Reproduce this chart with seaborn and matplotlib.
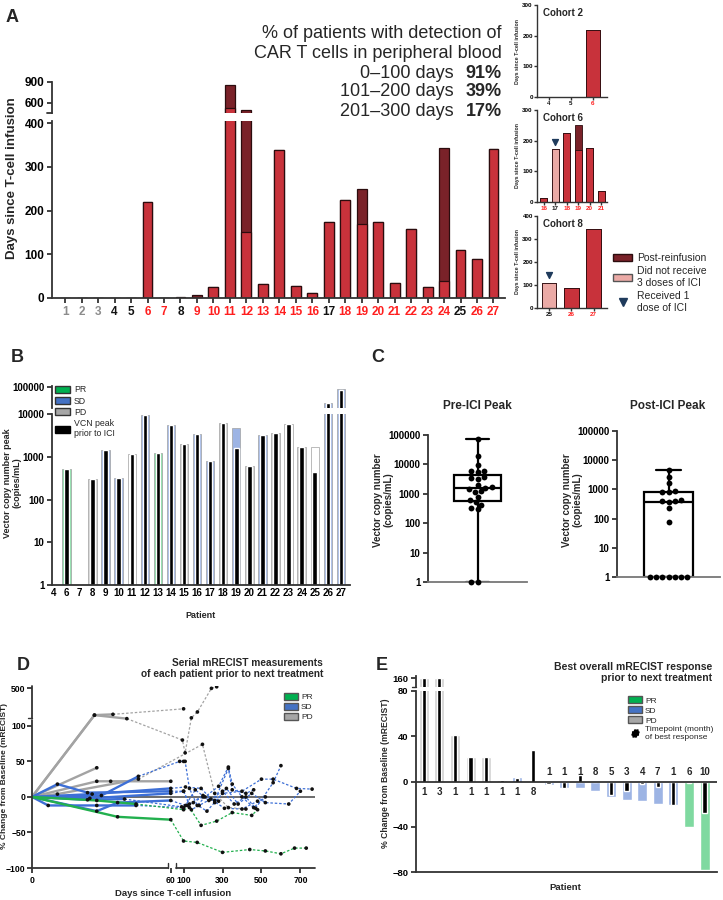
import numpy as np
import pandas as pd
import seaborn as sns
import matplotlib.pyplot as plt
from matplotlib.patches import Patch
from matplotlib.lines import Line2D
from matplotlib.ticker import FuncFormatter, NullLocator

nan = np.nan

# ---------------- data ----------------
# A: days since T-cell infusion (total incl. post-reinfusion, and before reinfusion)
a_patients = [str(i) for i in range(1, 28)]
a_total = [0, 0, 0, 0, 0, 220, 0, 2, 6, 25, 850, 500, 33, 338, 28, 12,
           173, 224, 250, 175, 35, 159, 26, 343, 110, 89, 342]
a_red = [0, 0, 0, 0, 0, 220, 0, 0, 0, 25, 530, 150, 33, 338, 28, 12,
         173, 224, 170, 175, 35, 159, 26, 40, 110, 89, 342]
a_tick_colors = (['#8c8c8c'] * 3 + ['#111111', '#111111', '#ff1f1f', '#ff1f1f', '#111111']
                 + ['#ff1f1f'] * 8 + ['#111111'] + ['#ff1f1f'] * 7
                 + ['#111111', '#ff1f1f', '#ff1f1f'])

c2_patients = ['4', '5', '6']
c2_days = [0, 0, 220]
c2_tick_colors = ['#111111', '#111111', '#ff1f1f']
c6_patients = ['16', '17', '18', '19', '20', '21']
c6_total = [12, 173, 224, 250, 175, 35]
c6_red = [12, 173, 224, 170, 175, 35]
c6_tick_colors = ['#ff1f1f', '#111111', '#ff1f1f', '#ff1f1f', '#ff1f1f', '#ff1f1f']
c8_patients = ['25', '26', '27']
c8_days = [110, 89, 342]
c8_tick_colors = ['#111111', '#ff1f1f', '#ff1f1f']

# B: vector copy number peak
b_patients = ['4', '6', '7', '8', '9', '10', '11', '12', '13', '14', '15', '16',
              '17', '18', '19', '20', '21', '22', '23', '24', '25', '26', '27']
b_peak = [nan, 520, nan, 300, 1420, 320, 1180, 9300, 1230, 5600, 2000, 3400,
          800, 6000, 4700, 610, 3300, 3600, 5900, 1650, 1650, 20000, 80000]
b_pre = [nan, 520, nan, 300, 1420, 320, 1180, 9300, 1230, 5600, 2000, 3400,
         800, 6000, 1630, 610, 3300, 3600, 5900, 1650, 430, 19000, 76000]
b_resp = ['NE', 'PR', 'NE', 'PD', 'SD', 'SD', 'NE', 'SD', 'PR', 'SD', 'PD', 'SD',
          'SD', 'PD', 'SD', 'PD', 'SD', 'PD', 'NE', 'PD', 'NE', 'SD', 'SD']

# C: pre / post ICI peaks
c_pre = [1, 1, 300, 320, 430, 520, 610, 800, 1180, 1230, 1420, 1630, 1650, 2000,
         3300, 3400, 3600, 5600, 5900, 6000, 9300, 19000, 76000]
c_post = [4800, 2700, 1600, 850, 830, 820, 420, 410, 400, 380, 230, 75,
          1, 1, 1, 1, 1, 1, 1]

# D: serial mRECIST measurements per patient
d_days = [
    [0, 27, 41, 94, 108, 140, 171, 243, 270],
    [0, 27, 35, 100],
    [0, 28],
    [0, 28, 34, 60],
    [0, 11, 46, 197, 260, 330, 420],
    [0, 11, 24, 60, 100, 130, 200, 260, 330, 350, 420, 460],
    [0, 7, 28, 45, 100, 150, 220, 300, 400, 500, 560, 680, 760],
    [0, 30, 46, 80, 100, 108, 130, 170, 210, 280, 330, 350, 400, 460, 520],
    [0, 28, 37, 60, 110, 160, 230, 300, 360, 420, 470, 560, 600],
    [0, 26, 60, 110, 190, 260, 320, 380, 450, 520, 640, 700],
    [0, 25, 60, 100, 140, 180, 240, 310, 400, 480],
    [0, 24, 40, 90, 120, 200, 280],
    [0, 37, 60, 100, 170, 300, 440, 520, 600, 670, 730],
    [0, 28, 45, 100, 130, 190, 270, 350, 450, 480],
]
d_vals = [
    [0, 160, 115, 80, 62, 125, 200, 500, 520],
    [0, 160, 170, 240],
    [0, 41],
    [0, 22, 22, 22],
    [0, 4, 25, 74, 5, -15, -17],
    [0, 18, 6, 8, 8, -10, 0, -5, 40, 10, 5, 10],
    [0, -12, -12, -12, -15, -8, -20, 5, 8, 25, 25, 12, 11],
    [0, 2, 29, 50, 50, 50, 12, -12, 0, 15, 42, 18, 0, -15, 0],
    [0, -20, -8, -5, -12, 10, -5, 8, -10, 0, -16, 20, 44],
    [0, 4, 12, 14, 12, -8, 12, -10, 5, -8, -10, 8],
    [0, -2, 5, 8, -18, -12, -3, -16, -17, -6],
    [0, -4, -3, -14, -12, 2, -6],
    [0, -28, -32, -62, -64, -78, -74, -76, -80, -72, -72],
    [0, -5, -10, -18, -15, -40, -34, -22, -26, -18],
]
d_resp = ['PD'] * 5 + ['SD'] * 7 + ['PR'] * 2

# E: best overall response
e_ids = [str(i) for i in range(1, 20)]
e_best = [160, 160, 41, 21.5, 21.5, 1.5, 4, nan, -3, -6, -6, -8, -14, -16, -17, -20, -21, -40, -78]
e_at_best = [160, 160, 41, 21.5, 21.5, 1.5, 3.5, 28, -2, -6, 6, 0, -12, -8, -2, -5, -21, -1, -28]
e_month = [1, 3, 1, 1, 1, 1, 1, 8, 1, 1, 1, 8, 5, 3, 4, 7, 1, 6, 10]
e_resp = ['PD'] * 6 + ['SD', 'PD'] + ['SD'] * 9 + ['PR'] * 2

# ---------------- style ----------------
sns.set_style('ticks')
plt.rcParams['font.family'] = ['Liberation Sans', 'DejaVu Sans']
plt.rcParams['font.weight'] = 'bold'

RED = '#c8323b'
DARK = '#7a2229'
PINK = '#ebaaa6'
EDGE = '#2b0c0e'
AXC = '#333333'
LIGHT = {'PR': '#7fd9a0', 'SD': '#9db4e4', 'PD': '#d2d2d2', 'NE': '#ffffff'}
SOLID = {'PR': '#00b050', 'SD': '#4472c4', 'PD': '#a6a6a6'}
LINE = {'PR': '#22b04e', 'SD': '#3d6fd6', 'PD': '#a3a3a3'}

W, H = 723, 900
fig = plt.figure(figsize=(W / 100, H / 100), dpi=100)


def add_ax(l, t, r, b):
    return fig.add_axes([l / W, 1 - b / H, (r - l) / W, (b - t) / H])


def fp(x, y):
    return x / W, 1 - y / H


def style(ax, fs=7.5, lw=1.3):
    sns.despine(ax=ax)
    for s in ['left', 'bottom']:
        ax.spines[s].set_color(AXC)
        ax.spines[s].set_linewidth(lw)
    ax.tick_params(colors=AXC, labelcolor='black', width=lw, length=3.5, labelsize=fs, pad=2)
    ax.set_xlabel('')
    ax.set_ylabel('')


plain = FuncFormatter(lambda v, _: f'{v:.0f}')

# ---------------- panel A ----------------
axA_hi = add_ax(52, 82, 505, 113)
axA = add_ax(52, 121, 505, 298)
for ax in (axA, axA_hi):
    sns.barplot(x=a_patients, y=a_total, order=a_patients, color=DARK, width=0.6,
                edgecolor=EDGE, linewidth=0.9, saturation=1, errorbar=None, ax=ax)
    sns.barplot(x=a_patients, y=a_red, order=a_patients, color=RED, width=0.6,
                edgecolor=EDGE, linewidth=0.9, saturation=1, errorbar=None, ax=ax)
    style(ax, fs=8.5)
    ax.set_xlim(-0.8, 26.7)
axA.set_ylim(0, 405)
axA.set_yticks([0, 100, 200, 300, 400])
for lab, c in zip(axA.get_xticklabels(), a_tick_colors):
    lab.set_color(c)
axA_hi.set_ylim(457, 900)
axA_hi.set_yticks([600, 900])
axA_hi.spines['bottom'].set_visible(False)
axA_hi.tick_params(axis='x', bottom=False, labelbottom=False)
axA_hi.plot([-0.012, 0], [0, 0], transform=axA_hi.transAxes, color=AXC, lw=1.3, clip_on=False)
fig.text(*fp(12, 178), 'Days since T-cell infusion', rotation=90, ha='center', va='center', fontsize=9.5)

fig.text(*fp(502, 34), '% of patients with detection of', ha='right', va='center', fontsize=13, weight='normal')
fig.text(*fp(502, 53), 'CAR T cells in peripheral blood', ha='right', va='center', fontsize=13, weight='normal')
for y, rng, pct in [(73, '0\u2013100 days', '91%'), (92, '101\u2013200 days', '39%'), (112, '201\u2013300 days', '17%')]:
    fig.text(*fp(454, y), rng, ha='right', va='center', fontsize=13, weight='normal')
    fig.text(*fp(502, y), pct, ha='right', va='center', fontsize=13, weight='bold')


def cohort(box, cats, total, red, colors, tcols, ymax, yticks, title, xlim, width, tri=None):
    ax = add_ax(*box)
    sns.barplot(x=cats, y=total, order=cats, color=DARK, width=width, edgecolor=EDGE,
                linewidth=0.6, saturation=1, errorbar=None, ax=ax)
    sns.barplot(x=cats, y=red, order=cats, hue=cats, palette=colors, legend=False, width=width,
                edgecolor=EDGE, linewidth=0.6, saturation=1, errorbar=None, ax=ax)
    style(ax, fs=4.5, lw=1.0)
    ax.tick_params(length=2, pad=1)
    ax.set_ylim(0, ymax)
    ax.set_yticks(yticks)
    ax.set_xlim(*xlim)
    for lab, c in zip(ax.get_xticklabels(), tcols):
        lab.set_color(c)
    ax.text(0.09, 0.91, title, transform=ax.transAxes, fontsize=7, va='center')
    if tri is not None:
        i = cats.index(tri)
        ax.scatter([i], [total[i] + ymax * 0.08], marker='v', s=18, color='#1f3b5c', zorder=5, clip_on=False)
    fig.text(*fp(518, (box[1] + box[3]) / 2), 'Days since T-cell infusion', rotation=90,
             ha='center', va='center', fontsize=3.8)
    return ax


cohort((537, 5, 607, 97), c2_patients, c2_days, c2_days, [RED] * 3, c2_tick_colors,
       300, [0, 100, 200, 300], 'Cohort 2', (-0.55, 2.64), 0.62)
cohort((537, 110, 607, 202), c6_patients, c6_total, c6_red,
       [RED, PINK, RED, RED, RED, RED], c6_tick_colors,
       300, [0, 100, 200, 300], 'Cohort 6', (-0.6, 5.5), 0.62, tri='17')
cohort((537, 216, 607, 308), c8_patients, c8_days, c8_days, [PINK, RED, RED], c8_tick_colors,
       400, [0, 100, 200, 300, 400], 'Cohort 8', (-0.55, 2.6), 0.65, tri='25')

fig.legend(handles=[Patch(fc=DARK, ec=EDGE), Patch(fc=PINK, ec='#555555'),
                    Line2D([], [], marker='v', color='#1f3b5c', ls='none', ms=6)],
           labels=['Post-reinfusion', 'Did not receive\n3 doses of ICI', 'Received 1\ndose of ICI'],
           loc='upper left', bbox_to_anchor=fp(609, 249), frameon=False, handlelength=1.8,
           handletextpad=0.5, labelspacing=0.3, borderaxespad=0, prop={'weight': 'normal', 'size': 7.5})

# ---------------- panel B ----------------
b_df = pd.DataFrame({'patient': b_patients, 'peak': b_peak, 'pre': b_pre, 'resp': b_resp})
axB_hi = add_ax(52, 386, 350, 408)
axB = add_ax(52, 414, 350, 585)
for ax in (axB, axB_hi):
    ax.set_yscale('log')
    sns.barplot(data=b_df, x='patient', y='peak', hue='resp', palette=LIGHT, dodge=False,
                order=b_patients, width=0.64, edgecolor='#a0a0a0', linewidth=0.5,
                saturation=1, errorbar=None, legend=False, ax=ax)
    sns.barplot(data=b_df, x='patient', y='pre', order=b_patients, color='black', width=0.34,
                saturation=1, errorbar=None, ax=ax)
    style(ax, fs=7)
    ax.set_xlim(-0.1, 22.7)
    ax.yaxis.set_minor_locator(NullLocator())
    ax.yaxis.set_major_formatter(plain)
axB.set_ylim(1, 10000)
axB.set_yticks([1, 10, 100, 1000, 10000])
axB_hi.set_ylim(12000, 110000)
axB_hi.set_yticks([100000])
axB_hi.spines['bottom'].set_visible(False)
axB_hi.tick_params(axis='x', bottom=False, labelbottom=False)
axB_hi.yaxis.set_minor_locator(NullLocator())
axB.tick_params(axis='x', length=0)
fig.text(*fp(12, 483), 'Vector copy number peak\n(copies/mL)', rotation=90, ha='center', va='center',
         fontsize=6.5, linespacing=1.1)
fig.text(*fp(201, 615), 'Patient', ha='center', va='center', fontsize=6.5)
fig.legend(handles=[Patch(fc=SOLID['PR'], ec='#333333'), Patch(fc=SOLID['SD'], ec='#333333'),
                    Patch(fc=SOLID['PD'], ec='#333333'), Patch(fc='black', ec='black')],
           labels=['PR', 'SD', 'PD', 'VCN peak\nprior to ICI'],
           loc='upper left', bbox_to_anchor=fp(52, 382), frameon=False, handlelength=1.7,
           handleheight=0.9, handletextpad=0.4, labelspacing=0.25, borderaxespad=0,
           prop={'weight': 'normal', 'size': 6.3})

# ---------------- panel C ----------------
for box, vals, title, tx, lx in [((428, 435, 527, 582), c_pre, 'Pre-ICI Peak', 477, 383),
                                  ((617, 431, 720, 577), c_post, 'Post-ICI Peak', 668, 572)]:
    ax = add_ax(*box)
    ax.set_yscale('log')
    sns.boxplot(y=vals, ax=ax, width=0.48, whis=(0, 100), color='white', linecolor='black',
                linewidth=1.6, showfliers=False)
    sns.swarmplot(y=vals, ax=ax, color='black', size=4.2)
    for coll in ax.collections:
        coll.set_clip_on(False)
    style(ax, fs=7)
    ax.spines['bottom'].set_color('#777777')
    ax.set_xlim(-0.5, 0.5)
    ax.set_ylim(1, 100000)
    ax.set_yticks([1, 10, 100, 1000, 10000, 100000])
    ax.yaxis.set_minor_locator(NullLocator())
    ax.yaxis.set_major_formatter(plain)
    ax.tick_params(axis='x', bottom=False, labelbottom=False)
    fig.text(*fp(tx, 406), title, ha='center', va='center', fontsize=8.5)
    fig.text(*fp(lx, 500), 'Vector copy number\n(copies/mL)', rotation=90, ha='center', va='center',
             fontsize=7, linespacing=1.1)


# ---------------- panel D ----------------
def fx(d):
    d = np.asarray(d, float)
    return np.where(d <= 60, d * 139 / 60, 144 + (d - 60) * 39 / 200)


def fx_inv(u):
    u = np.asarray(u, float)
    return np.where(u <= 141.5, u * 60 / 139, 60 + (u - 144) * 200 / 39)


def fy(v):
    v = np.asarray(v, float)
    return np.where(v <= 100, v * 0.71, 77 + (v - 100) * 0.0786)


def fy_inv(u):
    u = np.asarray(u, float)
    return np.where(u <= 74, u / 0.71, 100 + (u - 77) / 0.0786)


early_rows, late_rows, pts = [], [], []
for pid, (days, vals, resp) in enumerate(zip(d_days, d_vals, d_resp)):
    last_early = max(i for i, d in enumerate(days) if d <= 60)
    for i, (d, v) in enumerate(zip(days, vals)):
        if i <= last_early:
            early_rows.append((pid, d, v, resp))
        if i >= last_early:
            late_rows.append((pid, d, v, resp))
        if i > 0:
            pts.append((d, v))
cols = ['pid', 'day', 'val', 'resp']
d_early = pd.DataFrame(early_rows, columns=cols)
d_late = pd.DataFrame(late_rows, columns=cols)
d_pts = pd.DataFrame(pts, columns=['day', 'val'])

axD = add_ax(32, 686, 315, 868)
axD.set_xscale('function', functions=(fx, fx_inv))
axD.set_yscale('function', functions=(fy, fy_inv))
axD.axhline(0, color='#444444', lw=1.1, zorder=1)
sns.lineplot(data=d_late, x='day', y='val', hue='resp', units='pid', estimator=None, sort=False,
             palette=LINE, lw=0.9, linestyle=(0, (2, 1.5)), legend=False, ax=axD)
sns.lineplot(data=d_early, x='day', y='val', hue='resp', units='pid', estimator=None, sort=False,
             palette=LINE, lw=1.7, legend=False, ax=axD)
sns.scatterplot(data=d_pts, x='day', y='val', color='#111111', s=7, edgecolor='none', zorder=5, ax=axD)
style(axD, fs=6.2)
axD.tick_params(axis='y', pad=1)
axD.set_xlim(0, 775)
axD.set_ylim(-100, 530)
axD.set_xticks([0, 60, 100, 300, 500, 700])
axD.set_yticks([-100, -50, 0, 50, 100, 500])
axD.spines['left'].set_visible(False)
axD.spines['bottom'].set_visible(False)
yt = axD.get_yaxis_transform()
xt = axD.get_xaxis_transform()
for seg in ([-100, 104], [122, 530]):
    axD.plot([0, 0], seg, transform=yt, color=AXC, lw=1.3, clip_on=False)
axD.plot([-0.015, 0.0], [122, 122], transform=yt, color=AXC, lw=1.0, clip_on=False)
axD.plot([0, 59], [0, 0], transform=xt, color=AXC, lw=1.3, clip_on=False)
axD.plot([61, 775], [0, 0], transform=xt, color=AXC, lw=1.3, clip_on=False)
for xb in (59, 61):
    axD.plot([xb, xb], [0, 0.03], transform=xt, color=AXC, lw=1.0, clip_on=False)
axD.legend(handles=[Patch(fc=SOLID[k], ec='#555555') for k in ['PR', 'SD', 'PD']],
           labels=['PR', 'SD', 'PD'], loc='upper left', bbox_to_anchor=(0.88, 0.98),
           frameon=False, handlelength=1.6, handleheight=0.9, handletextpad=0.4, labelspacing=0.2,
           borderaxespad=0, prop={'weight': 'normal', 'size': 6})
fig.text(*fp(323, 658), 'Serial mRECIST measurements\nof each patient prior to next treatment',
         ha='right', va='top', fontsize=7.3, linespacing=1.15)
fig.text(*fp(173, 893), 'Days since T-cell infusion', ha='center', va='center', fontsize=6.8)
fig.text(*fp(5, 776), '% Change from Baseline (mRECIST)', rotation=90, ha='center', va='center',
         fontsize=6)

# ---------------- panel E ----------------
e_df = pd.DataFrame({'pt': e_ids, 'best': e_best, 'at_best': e_at_best, 'resp': e_resp})
axE_hi = add_ax(416, 676, 717, 687)
axE = add_ax(416, 691, 717, 872)
for ax in (axE, axE_hi):
    sns.barplot(data=e_df, x='pt', y='best', hue='resp', palette=LIGHT, dodge=False, order=e_ids,
                width=0.64, saturation=1, errorbar=None, legend=False, ax=ax)
    sns.barplot(data=e_df, x='pt', y='at_best', order=e_ids, color='black', width=0.27,
                saturation=1, errorbar=None, ax=ax)
    style(ax, fs=6.8)
    ax.set_xlim(-0.5, 18.8)
    ax.tick_params(axis='x', bottom=False, labelbottom=False)
axE.set_ylim(-80, 80)
axE.set_yticks([-80, -40, 0, 40, 80])
axE.axhline(0, color='#222222', lw=1.2)
axE_hi.set_ylim(148, 163)
axE_hi.set_yticks([160])
axE_hi.spines['bottom'].set_visible(False)
axE_hi.plot([-0.012, 0], [0, 0], transform=axE_hi.transAxes, color=AXC, lw=1.0, clip_on=False)
for i, (b, k, m) in enumerate(zip(e_best, e_at_best, e_month)):
    ref = k if np.isnan(b) else b
    if ref > 0:
        axE.text(i, -5, str(m), ha='center', va='top', fontsize=7)
    else:
        axE.text(i, 4, str(m), ha='center', va='bottom', fontsize=7)
fig.legend(handles=[Patch(fc=SOLID['PR'], ec='#555555'), Patch(fc=SOLID['SD'], ec='#555555'),
                    Patch(fc=SOLID['PD'], ec='#555555'),
                    Line2D([], [], marker=r'$\#$', color='black', ls='none', ms=5)],
           labels=['PR', 'SD', 'PD', 'Timepoint (month)\nof best response'],
           loc='upper left', bbox_to_anchor=fp(625, 693), frameon=False, handlelength=1.6,
           handleheight=0.9, handletextpad=0.4, labelspacing=0.2, borderaxespad=0,
           prop={'weight': 'normal', 'size': 6})
fig.text(*fp(712, 662), 'Best overall mRECIST response\nprior to next treatment',
         ha='right', va='top', fontsize=7.5, linespacing=1.15)
fig.text(*fp(565, 887), 'Patient', ha='center', va='center', fontsize=6.8)
fig.text(*fp(385, 773), '% Change from Baseline (mRECIST)', rotation=90, ha='center', va='center',
         fontsize=6.2)

# ---------------- panel letters ----------------
for x, y, s in [(12, 17, 'A'), (17, 357, 'B'), (378, 357, 'C'), (23, 666, 'D'), (382, 665, 'E')]:
    fig.text(*fp(x, y), s, ha='center', va='center', fontsize=13)

fig.savefig('out.png', dpi=100)
